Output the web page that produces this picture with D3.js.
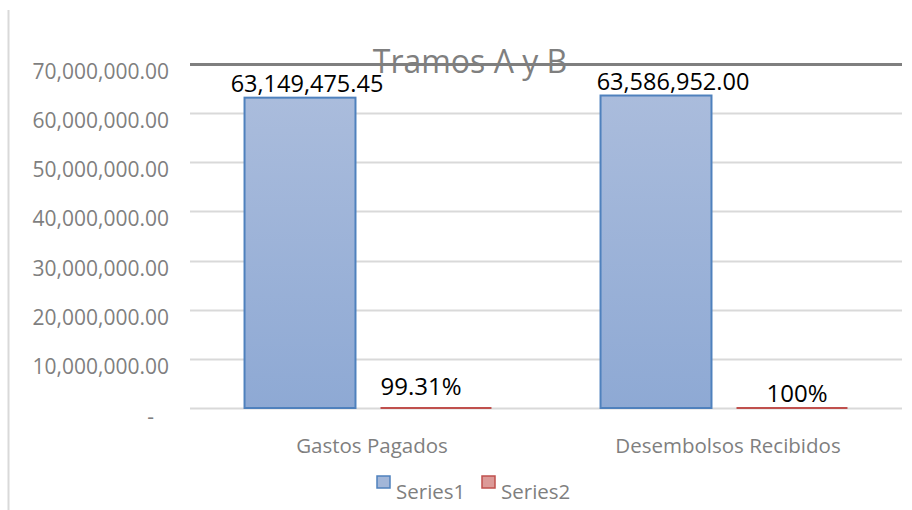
<!DOCTYPE html>
<html>
<head>
<meta charset="utf-8">
<script src="https://cdn.jsdelivr.net/npm/d3@7"></script>
<style>
  body { margin: 0; background: #fff; }
  text { font-family: "Open Sans", "Noto Sans", sans-serif; }
</style>
</head>
<body>
<div id="chart"></div>
<script>
// chart data
let categories = ["Gastos Pagados", "Desembolsos Recibidos"];
let seriesNames = ["Series1", "Series2"];
let series1 = [63149475.45, 63586952.00];
let series2 = [0.9931, 1.0];
let series1Labels = ["63,149,475.45", "63,586,952.00"];
let series2Labels = ["99.31%", "100%"];
let yTicks = [0, 10000000, 20000000, 30000000, 40000000, 50000000, 60000000, 70000000];

let width = 912, height = 510;
let margin = {"top": 64, "bottom": 102, "left": 190, "right": 10};

let svg = d3.select("#chart").append("svg")
    .attr("width", width)
    .attr("height", height);

// gradients like the office bar fill
let defs = svg.append("defs");
function addGrad(id, top, bottom){
    let g = defs.append("linearGradient").attr("id", id)
        .attr("x1", 0).attr("y1", 0).attr("x2", 0).attr("y2", 1);
    g.append("stop").attr("offset", "0%").attr("stop-color", top);
    g.append("stop").attr("offset", "100%").attr("stop-color", bottom);
}
addGrad("g1", "#aabcdc", "#8ea9d4");
addGrad("g2", "#e6aeac", "#d48d8a");

let fills = ["url(#g1)", "url(#g2)"];
let strokes = ["#4f81bd", "#c0504d"];
let legendFills = ["#a2b6d8", "#dc9a98"];

// chart border (only left edge visible)
svg.append("line")
    .attr("x1", 8.5).attr("x2", 8.5)
    .attr("y1", 10).attr("y2", height)
    .attr("stroke", "#d9d9d9").attr("stroke-width", 2);

let x0 = d3.scaleBand().domain(categories)
    .range([margin.left, width - margin.right]);
let x1 = d3.scaleBand().domain(seriesNames)
    .range([0, x0.bandwidth()])
    .paddingInner(0.184).paddingOuter(0.401);
let y = d3.scaleLinear().domain([0, 70000000])
    .range([height - margin.bottom, margin.top]);

// gridlines
svg.append("g").selectAll("line")
    .data(yTicks)
    .enter().append("line")
    .attr("x1", margin.left).attr("x2", width - margin.right)
    .attr("y1", d => Math.round(y(d)) + 0.5)
    .attr("y2", d => Math.round(y(d)) + 0.5)
    .attr("stroke", d => d === 70000000 ? "#7f7f7f" : "#d9d9d9")
    .attr("stroke-width", d => d === 70000000 ? 3 : 2);

// y tick labels
let fmt = d3.format(",.2f");
svg.append("g").selectAll("text")
    .data(yTicks)
    .enter().append("text")
    .attr("x", d => d === 0 ? 154 : 169)
    .attr("y", d => y(d) + (d === 0 ? 16 : 15))
    .attr("text-anchor", "end")
    .attr("font-size", 21)
    .attr("fill", "#7f7f7f")
    .text(d => d === 0 ? "-" : fmt(d));

// title
svg.append("text")
    .attr("x", 470).attr("y", 73)
    .attr("text-anchor", "middle")
    .attr("font-size", 32)
    .attr("fill", "#7f7f7f")
    .text("Tramos A y B");

// bars
let rows = categories.map((c, i) => ({cat: c, vals: [series1[i], series2[i]]}));

let groups = svg.selectAll(".cat")
    .data(rows)
    .enter().append("g")
    .attr("class", "cat")
    .attr("transform", d => "translate(" + x0(d.cat) + ",0)");

groups.selectAll("rect")
    .data(d => d.vals.map((v, j) => ({s: seriesNames[j], v: v, j: j})))
    .enter().append("rect")
    .attr("x", d => x1(d.s))
    .attr("y", d => y(d.v))
    .attr("width", x1.bandwidth())
    .attr("height", d => Math.max(0, y(0) - y(d.v)))
    .attr("fill", d => fills[d.j])
    .attr("stroke", d => strokes[d.j])
    .attr("stroke-width", 2);

// data labels
categories.forEach((c, i) => {
    svg.append("text")
        .attr("x", x0(c) + x1("Series1") + x1.bandwidth() / 2 + (i === 0 ? 7 : 17))
        .attr("y", y(series1[i]) - 6)
        .attr("text-anchor", "middle")
        .attr("font-size", 23.5)
        .attr("fill", "#000")
        .text(series1Labels[i]);
    svg.append("text")
        .attr("x", x0(c) + x1("Series2") + x1.bandwidth() / 2 + (i === 0 ? -15 : 5))
        .attr("y", y(series2[i]) - (i === 0 ? 13 : 6))
        .attr("text-anchor", "middle")
        .attr("font-size", 24)
        .attr("fill", "#000")
        .text(series2Labels[i]);
});

// category axis labels
svg.append("g").selectAll("text")
    .data(categories)
    .enter().append("text")
    .attr("x", d => x0(d) + x0.bandwidth() / 2 + 4)
    .attr("y", 453)
    .attr("text-anchor", "middle")
    .attr("font-size", 20.5)
    .attr("fill", "#7f7f7f")
    .text(d => d);

// legend
let legendX = [377, 482];
let legend = svg.selectAll(".legend")
    .data(seriesNames)
    .enter().append("g")
    .attr("class", "legend")
    .attr("transform", (d, i) => "translate(" + legendX[i] + ",476)");

legend.append("rect")
    .attr("width", 13).attr("height", 12)
    .attr("fill", (d, i) => legendFills[i])
    .attr("stroke", (d, i) => strokes[i])
    .attr("stroke-width", 1.5);

legend.append("text")
    .attr("x", 19).attr("y", 23)
    .attr("font-size", 20.5)
    .attr("fill", "#7f7f7f")
    .text(d => d);
</script>
</body>
</html>
